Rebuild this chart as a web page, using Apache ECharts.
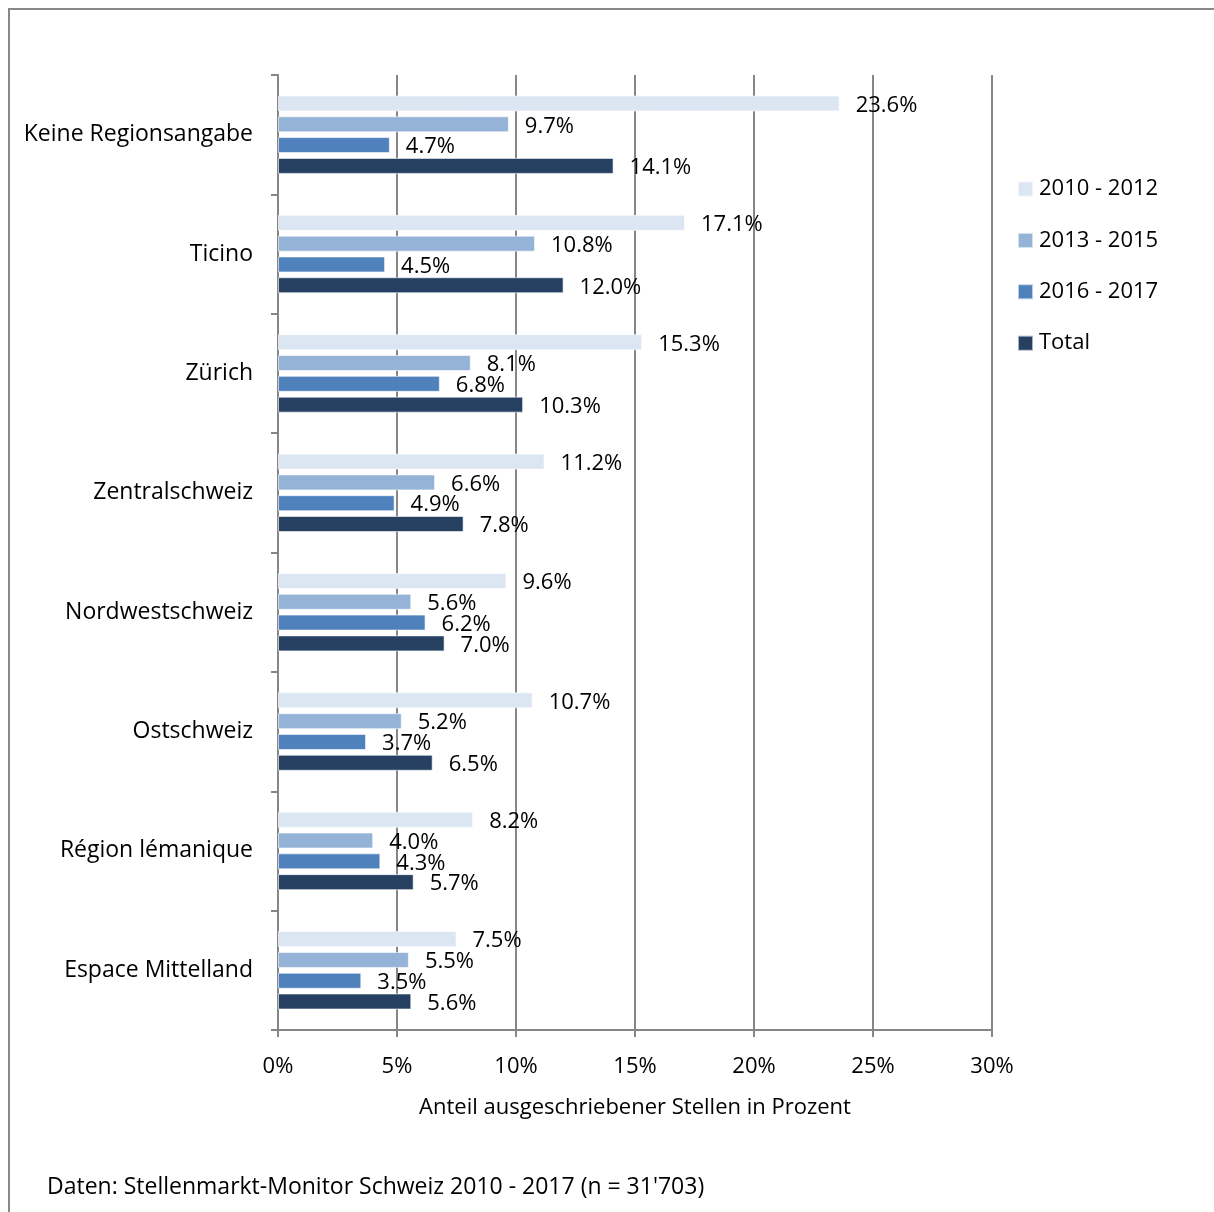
<!DOCTYPE html>
<html>
<head>
<meta charset="utf-8">
<script src="https://cdn.jsdelivr.net/npm/echarts@6/dist/echarts.min.js"></script>
<style>
html,body{margin:0;padding:0;background:#fff;}
#c{width:1214px;height:1212px;}
</style>
</head>
<body>
<div id="c"></div>
<script>
const categories = ["Keine Regionsangabe","Ticino","Zürich","Zentralschweiz","Nordwestschweiz","Ostschweiz","Région lémanique","Espace Mittelland"];
const seriesNames = ["2010 - 2012","2013 - 2015","2016 - 2017","Total"];
const s2010_2012 = [23.6,17.1,15.3,11.2,9.6,10.7,8.2,7.5];
const s2013_2015 = [9.7,10.8,8.1,6.6,5.6,5.2,4.0,5.5];
const s2016_2017 = [4.7,4.5,6.8,4.9,6.2,3.7,4.3,3.5];
const sTotal = [14.1,12.0,10.3,7.8,7.0,6.5,5.7,5.6];
const xTicks = [0,5,10,15,20,25,30];
const axisName = "Anteil ausgeschriebener Stellen in Prozent";
const footer = "Daten: Stellenmarkt-Monitor Schweiz 2010 - 2017 (n = 31'703)";

const colors = ["#DCE6F2","#95B3D7","#4F81BD","#254061"];
const FONT = "Open Sans";
const FS = 23;
const values = [s2010_2012, s2013_2015, s2016_2017, sTotal];

const chart = echarts.init(document.getElementById('c'), null, {renderer:'canvas'});
chart.setOption({
  animation:false,
  textStyle:{fontFamily:FONT,color:'#000'},
  grid:{left:278,right:222,top:75,bottom:182,containLabel:false},
  legend:{
    orient:'vertical',left:1017,top:178,padding:0,itemGap:29.4,itemWidth:15,itemHeight:15,
    icon:'rect',
    textStyle:{fontFamily:FONT,fontSize:FS-1,color:'#000',padding:[0,0,0,1]},
    data:seriesNames
  },
  xAxis:{
    type:'value',min:xTicks[0],max:xTicks[xTicks.length-1],interval:xTicks[1]-xTicks[0],
    axisLine:{show:true,lineStyle:{color:'#868686',width:2}},
    axisTick:{show:true,length:7,lineStyle:{color:'#868686',width:2}},
    axisLabel:{formatter:v=>v+'%',fontSize:FS-1,color:'#000',margin:26,fontFamily:FONT},
    splitLine:{show:true,lineStyle:{color:'#868686',width:2}},
    name:axisName,nameLocation:'middle',nameGap:67,
    nameTextStyle:{fontSize:FS-1,color:'#000',fontFamily:FONT}
  },
  yAxis:{
    type:'category',data:categories,inverse:true,
    axisLine:{show:true,lineStyle:{color:'#868686',width:2}},
    axisTick:{show:true,length:7,lineStyle:{color:'#868686',width:2}},
    axisLabel:{fontSize:FS,color:'#000',margin:25,fontFamily:FONT,padding:[4,0,0,0]}
  },
  graphic:[
    {type:'rect',shape:{x:9,y:9,width:1230,height:1230},style:{fill:null,stroke:'#888',lineWidth:2},z:-10},
    {type:'text',left:47,top:1176,style:{text:footer,font:FS+'px "'+FONT+'"',fill:'#000'}}
  ],
  series: seriesNames.map((n,i)=>({
    name:n,type:'bar',data:values[i],
    barWidth:16,barGap:'30%',
    itemStyle:{color:colors[i],borderColor:'rgba(255,255,255,0.6)',borderWidth:1},
    label:{show:true,position:'right',distance:16,fontSize:FS-1,color:'#000',fontFamily:FONT,
      offset:[0,2],formatter:p=>p.value.toFixed(1)+'%'}
  }))
});
</script>
</body>
</html>
